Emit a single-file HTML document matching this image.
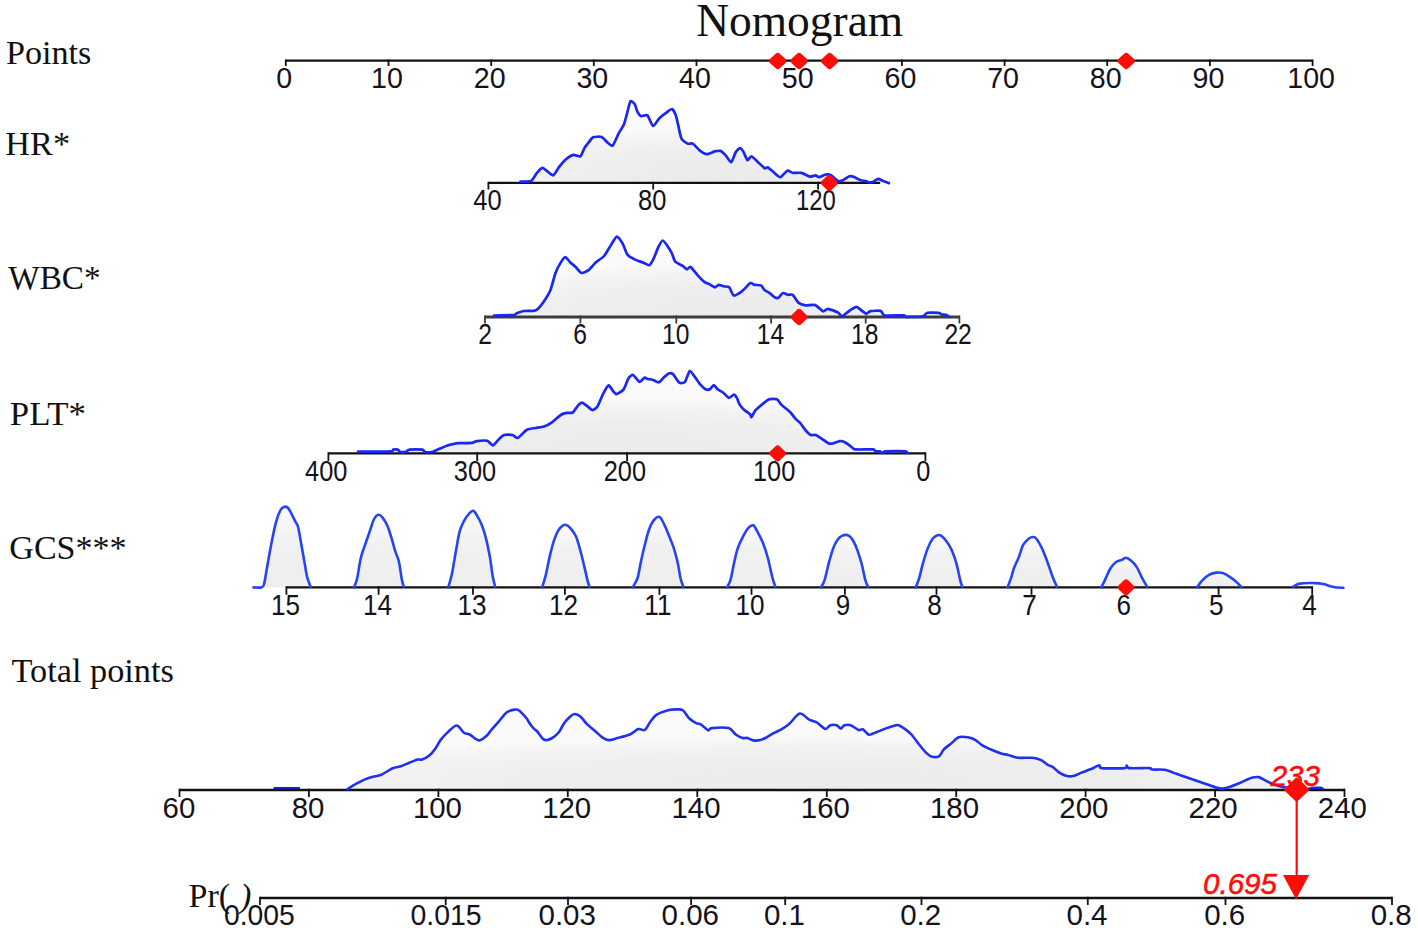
<!DOCTYPE html>
<html lang="en"><head><meta charset="utf-8"><title>Nomogram</title>
<style>
html,body{margin:0;padding:0;background:#fff}
svg{display:block}
.s{font-family:"Liberation Sans",sans-serif;fill:#14121c}
.t{font-family:"Liberation Serif",serif;fill:#111}
.ri{font-family:"Liberation Sans",sans-serif;font-style:italic;fill:#ff0c06;stroke:#ff0c06;stroke-width:0.55px}
</style></head>
<body>
<svg width="1418" height="934" viewBox="0 0 1418 934">
<rect width="1418" height="934" fill="#ffffff"/>
<defs>
<radialGradient id="gf" cx="0.5" cy="1.0" r="0.66" fx="0.5" fy="0.9"><stop offset="0" stop-color="#ebebeb"/><stop offset="0.5" stop-color="#eeeeee"/><stop offset="0.85" stop-color="#f4f4f4"/><stop offset="1" stop-color="#fafafa"/></radialGradient>
<linearGradient id="gg" x1="0" y1="0" x2="0" y2="1"><stop offset="0" stop-color="#fcfcfc"/><stop offset="0.4" stop-color="#f1f1f1"/><stop offset="1" stop-color="#eeeeee"/></linearGradient>
</defs>
<path d="M520.5,181.6C521.5,181.5 529.4,181.8 531.0,181.0C532.6,180.2 535.6,174.5 536.7,173.2C537.8,171.9 541.2,168.0 542.3,167.9C543.4,167.8 546.9,171.1 548.0,171.8C549.1,172.5 552.2,175.8 553.3,175.3C554.4,174.8 557.9,168.5 559.2,166.9C560.5,165.3 564.9,160.3 566.3,159.1C567.7,157.9 571.9,155.2 573.3,154.9C574.7,154.6 579.3,157.0 580.4,156.3C581.5,155.6 583.8,149.2 584.6,147.8C585.5,146.4 588.0,143.3 588.9,142.2C589.8,141.1 591.8,137.7 593.1,137.2C594.4,136.7 600.2,136.5 601.6,137.0C603.0,137.5 606.1,141.3 607.2,142.2C608.3,143.1 611.5,146.5 612.6,145.7C613.7,144.8 617.4,135.9 618.5,133.7C619.6,131.5 623.2,126.2 624.1,123.9C625.0,121.7 627.0,113.5 627.6,111.2C628.2,108.9 629.8,102.0 630.5,101.3C631.2,100.6 634.0,103.0 634.7,104.1C635.4,105.2 636.9,110.7 637.5,111.9C638.1,113.1 640.0,115.8 641.0,116.1C642.0,116.4 646.2,114.4 647.4,115.4C648.6,116.4 651.8,125.7 653.0,126.0C654.2,126.3 658.1,119.5 659.4,118.2C660.7,116.9 665.1,113.5 666.4,112.6C667.7,111.7 671.1,108.6 672.1,109.0C673.1,109.4 675.4,113.9 676.3,116.8C677.2,119.7 680.1,135.3 681.2,138.0C682.3,140.7 686.4,143.0 687.6,143.6C688.8,144.2 691.6,142.9 692.8,143.6C694.0,144.3 698.5,149.5 699.9,150.6C701.3,151.7 705.4,154.1 706.9,154.2C708.4,154.3 713.4,151.7 714.7,151.4C716.0,151.1 719.2,150.6 720.3,150.9C721.4,151.2 724.2,153.8 725.3,154.9C726.4,156.0 730.2,162.5 731.2,162.2C732.2,161.9 734.9,153.5 735.8,152.1C736.7,150.7 739.3,148.1 740.1,148.1C740.9,148.1 742.9,150.9 743.6,152.1C744.3,153.3 746.7,159.8 747.5,160.2C748.3,160.6 750.4,156.1 751.4,156.3C752.4,156.5 756.4,160.7 757.7,161.9C759.0,163.1 763.8,167.8 764.8,168.3C765.8,168.8 766.8,167.0 767.6,167.3C768.4,167.7 771.9,170.8 773.2,171.8C774.5,172.8 778.9,177.3 780.3,177.2C781.7,177.1 786.0,171.1 787.3,170.7C788.6,170.3 791.6,172.7 793.0,172.9C794.4,173.1 799.7,172.5 801.4,172.9C803.1,173.3 808.5,176.5 809.9,176.7C811.3,176.9 814.6,175.2 815.5,175.3C816.4,175.4 818.1,177.3 819.1,177.2C820.1,177.1 824.2,174.8 825.4,174.6C826.6,174.4 829.7,174.7 831.0,175.3C832.3,175.9 836.9,180.5 838.1,181.0C839.3,181.5 841.9,180.8 843.0,180.3C844.1,179.8 848.3,176.7 849.4,176.3C850.5,175.9 852.5,176.3 853.6,176.7C854.7,177.1 859.5,179.9 860.7,180.3C861.9,180.7 864.7,180.8 865.6,181.0C866.5,181.2 869.0,182.3 869.8,182.4C870.6,182.5 872.4,182.0 873.3,181.7C874.1,181.3 877.3,179.0 878.3,178.9C879.3,178.8 882.1,180.6 883.2,181.0C884.3,181.4 888.3,182.9 888.9,183.1L888.9,182.8L520.5,182.8Z" fill="url(#gf)"/>
<path d="M494.1,315.6C496.1,315.5 511.6,315.2 513.9,315.0C516.2,314.8 515.7,313.6 516.7,313.2C517.7,312.8 522.0,311.2 523.7,311.0C525.4,310.8 532.2,311.0 533.6,310.8C535.0,310.6 536.8,309.8 537.8,308.9C538.8,308.0 542.2,303.8 543.5,301.9C544.8,300.0 549.3,292.8 550.5,289.9C551.7,287.0 554.5,275.7 555.5,273.0C556.5,270.3 559.4,264.7 560.4,263.1C561.4,261.5 564.3,257.3 565.3,257.2C566.3,257.1 569.2,261.4 570.3,262.4C571.4,263.4 574.8,266.2 575.9,267.3C577.0,268.4 580.3,272.7 581.6,273.0C582.9,273.3 587.2,271.2 588.6,270.1C590.0,269.0 594.2,263.8 595.7,262.4C597.2,261.0 602.6,257.8 604.1,256.0C605.6,254.2 609.9,246.6 611.2,244.7C612.5,242.8 615.7,236.7 616.8,236.6C617.9,236.5 621.4,241.5 622.5,243.3C623.6,245.1 626.1,253.0 627.4,254.6C628.7,256.2 633.5,258.8 635.1,259.6C636.7,260.4 642.2,262.2 643.6,262.8C645.0,263.4 648.3,265.6 649.3,265.2C650.3,264.8 652.6,260.7 653.5,258.9C654.4,257.1 657.5,248.7 658.4,246.9C659.3,245.1 661.8,240.6 662.7,240.5C663.6,240.4 666.7,244.9 667.6,246.2C668.5,247.5 671.0,251.6 671.8,253.2C672.6,254.8 674.2,260.4 675.3,261.7C676.4,263.0 681.5,265.1 682.7,265.9C683.9,266.7 686.1,269.3 686.9,269.4C687.7,269.5 689.4,266.4 690.5,267.0C691.6,267.6 696.8,274.3 698.2,275.8C699.6,277.3 703.5,281.3 704.6,282.1C705.7,282.9 708.5,283.7 709.5,284.2C710.5,284.7 714.0,287.2 714.9,287.3C715.8,287.4 717.8,285.0 718.7,284.9C719.6,284.8 723.2,286.2 724.3,286.4C725.3,286.6 728.2,286.4 729.2,287.3C730.2,288.2 732.5,295.1 733.8,295.5C735.1,295.9 740.2,292.5 741.9,291.3C743.6,290.1 749.1,283.7 750.4,283.1C751.7,282.5 753.5,284.7 754.6,284.9C755.7,285.1 760.0,284.9 761.0,285.4C762.0,285.9 763.6,289.1 764.5,289.9C765.4,290.7 769.0,292.6 770.1,293.4C771.2,294.2 774.2,297.2 775.1,297.6C776.0,298.0 777.8,298.1 778.6,297.6C779.4,297.1 781.9,293.3 782.8,293.0C783.7,292.7 786.8,294.6 787.8,294.8C788.8,295.0 791.7,294.0 792.7,294.8C793.8,295.6 797.0,301.5 798.3,302.6C799.6,303.7 803.7,305.1 805.4,305.4C807.1,305.6 813.5,304.5 815.3,305.1C817.1,305.7 821.7,310.9 823.0,311.3C824.3,311.7 826.5,308.8 828.0,308.9C829.5,309.0 836.4,311.6 837.8,312.4C839.2,313.1 841.0,316.5 842.1,316.4C843.2,316.3 847.7,311.9 849.1,311.0C850.5,310.1 855.2,307.0 856.4,306.9C857.6,306.8 860.4,309.6 861.4,310.3C862.4,311.0 865.6,313.6 866.5,313.7C867.4,313.8 869.1,311.4 870.5,311.1C871.9,310.8 879.2,310.5 880.6,310.9C882.0,311.3 882.3,314.9 884.6,315.4C886.9,315.8 901.7,315.3 903.8,315.4C905.9,315.5 903.5,316.7 905.4,316.8C907.3,316.9 920.2,316.9 922.4,316.5C924.6,316.1 925.8,313.2 927.4,312.8C929.0,312.4 937.2,312.6 938.7,312.8C940.2,313.0 941.4,314.4 942.1,314.6C942.8,314.8 945.4,314.6 946.1,314.8C946.8,315.0 948.6,316.6 948.9,316.8L948.9,317.2L494.1,317.2Z" fill="url(#gf)"/>
<path d="M358.1,451.7C361.3,451.7 387.0,451.6 390.5,451.4C394.0,451.2 392.6,449.8 393.3,449.6C394.0,449.4 396.9,449.4 397.6,449.6C398.3,449.8 399.6,451.8 400.4,452.0C401.2,452.2 405.1,451.9 406.0,451.7C406.9,451.5 408.0,449.8 409.6,449.6C411.2,449.4 420.8,449.4 422.3,449.6C423.9,449.8 424.1,451.8 425.1,452.0C426.2,452.2 431.3,452.0 432.8,451.7C434.3,451.4 438.3,449.2 439.9,448.6C441.4,448.0 446.5,445.8 448.3,445.3C450.1,444.8 455.8,443.4 458.2,443.2C460.6,443.0 470.5,443.1 472.3,442.9C474.1,442.7 475.1,441.3 476.6,441.1C478.1,440.9 485.5,440.4 487.1,440.8C488.7,441.2 491.7,445.4 492.8,445.3C493.9,445.2 497.3,440.7 498.4,439.7C499.5,438.7 502.7,435.5 504.1,435.0C505.5,434.5 511.1,434.7 512.5,435.0C513.9,435.3 516.4,438.4 517.8,437.9C519.2,437.4 525.1,430.8 526.9,429.8C528.7,428.8 533.7,428.3 535.4,428.0C537.1,427.7 542.2,427.2 543.9,426.6C545.6,426.0 550.6,423.3 552.3,422.1C554.0,420.9 559.4,415.9 560.8,415.0C562.2,414.1 565.2,413.1 566.4,412.9C567.6,412.6 571.7,413.2 572.8,412.5C573.9,411.8 576.8,406.8 577.7,405.8C578.6,404.8 581.0,402.6 581.9,402.6C582.8,402.6 585.8,405.1 586.9,405.8C588.0,406.6 591.5,410.0 592.5,410.1C593.5,410.2 596.3,408.1 597.4,406.5C598.5,404.9 602.0,396.0 603.1,393.9C604.2,391.8 607.7,385.7 608.7,385.4C609.7,385.1 612.2,390.1 613.0,391.0C613.8,391.9 615.5,394.2 616.5,394.1C617.5,394.0 622.3,391.2 623.5,389.6C624.7,388.0 627.6,379.8 628.5,378.3C629.4,376.8 631.9,374.8 632.7,374.8C633.5,374.8 635.5,377.6 636.2,378.3C636.9,379.0 638.9,382.0 639.8,381.9C640.6,381.8 643.9,377.9 644.7,377.6C645.5,377.3 646.7,378.8 647.5,379.0C648.3,379.2 651.4,379.4 652.5,379.7C653.6,380.0 657.7,382.5 658.8,382.3C659.9,382.1 662.7,378.5 663.7,377.6C664.7,376.7 667.8,373.8 668.7,373.4C669.6,373.0 671.8,373.2 672.9,374.1C674.0,375.0 678.1,381.8 679.3,382.6C680.5,383.4 683.9,383.1 684.9,381.9C685.9,380.7 688.8,371.5 689.8,371.0C690.8,370.5 693.7,375.5 694.8,376.9C695.9,378.3 699.3,383.5 700.4,384.7C701.5,385.9 704.6,388.8 705.6,389.3C706.6,389.8 709.1,389.7 709.9,389.3C710.7,388.9 713.0,385.1 713.8,385.1C714.6,385.1 716.6,388.5 717.6,389.3C718.6,390.1 722.2,391.8 723.3,392.7C724.4,393.6 727.8,397.6 728.9,397.8C730.0,398.0 733.1,394.6 733.9,394.6C734.7,394.6 736.4,397.1 737.0,398.1C737.6,399.1 738.8,403.3 739.5,404.4C740.2,405.5 742.6,408.4 743.7,409.4C744.8,410.4 749.3,413.5 750.1,414.3C750.9,415.1 751.0,417.5 751.5,417.1C752.0,416.8 753.9,412.1 755.0,410.8C756.1,409.5 760.7,405.6 762.1,404.4C763.5,403.2 767.6,399.7 769.1,399.2C770.6,398.7 775.6,398.6 776.9,399.2C778.2,399.8 780.5,403.8 781.8,405.1C783.1,406.4 788.9,410.8 790.3,412.2C791.7,413.6 794.9,418.1 795.9,419.2C796.9,420.3 799.1,421.7 800.1,422.8C801.1,423.9 804.7,429.3 805.8,430.5C806.9,431.7 809.7,434.6 810.7,435.0C811.7,435.4 814.6,434.7 815.7,435.0C816.8,435.3 820.0,437.5 821.3,438.3C822.6,439.1 827.2,442.7 828.3,443.2C829.4,443.7 831.5,443.7 832.6,443.5C833.7,443.3 838.5,441.3 839.6,441.1C840.7,440.9 842.8,441.3 843.9,441.8C845.0,442.3 849.1,445.0 850.2,445.8C851.3,446.6 852.8,449.0 855.1,449.4C857.4,449.8 871.3,449.2 873.3,449.4C875.3,449.6 874.9,451.2 875.5,451.4C876.1,451.6 879.0,451.2 879.7,451.4C880.4,451.6 881.5,453.0 882.1,453.0C882.7,453.0 883.2,451.6 885.5,451.4C887.8,451.2 903.1,451.1 905.3,451.3C907.5,451.5 907.2,452.8 907.4,453.0L907.4,453.3L358.1,453.3Z" fill="url(#gf)"/>
<path d="M253.5,587.4C254.8,587.4 259.5,588.0 261.3,587.4C263.1,586.8 263.2,587.1 264.1,583.9C265.0,580.7 265.7,574.9 266.9,568.3C268.1,561.7 269.7,552.1 271.2,544.4C272.7,536.6 274.6,527.4 276.1,521.8C277.6,516.1 279.0,513.0 280.3,510.5C281.6,508.0 282.7,507.5 283.9,507.0C285.1,506.5 286.2,506.5 287.4,507.4C288.6,508.3 289.6,510.3 290.9,512.6C292.2,514.9 293.9,518.8 295.1,521.1C296.3,523.5 297.1,523.3 298.0,526.7C298.9,530.1 299.8,535.7 300.8,541.5C301.9,547.3 303.2,555.4 304.3,561.3C305.4,567.2 306.1,572.6 307.1,576.8C308.2,581.0 310.0,585.1 310.6,586.7Z" fill="url(#gg)"/>
<path d="M354.1,587.4C354.6,585.9 356.1,583.0 357.2,578.2C358.3,573.4 359.3,564.4 360.7,558.5C362.1,552.6 364.0,547.9 365.7,543.0C367.4,538.1 369.2,532.9 370.6,528.9C372.0,524.9 372.8,521.4 374.1,519.0C375.4,516.6 376.9,514.9 378.3,514.7C379.7,514.5 381.1,515.7 382.6,517.6C384.1,519.5 386.0,522.5 387.5,526.0C389.0,529.5 390.4,534.5 391.7,538.7C393.0,542.9 394.1,547.6 395.3,551.4C396.5,555.2 397.8,556.8 398.8,561.3C399.9,565.8 400.8,574.0 401.6,578.2C402.4,582.4 403.4,585.3 403.7,586.7Z" fill="url(#gg)"/>
<path d="M448.3,587.4C448.9,585.2 450.6,580.2 451.9,574.0C453.2,567.8 454.8,557.0 456.1,550.0C457.4,543.0 458.3,536.5 459.6,531.7C460.9,526.9 462.4,524.1 463.9,521.1C465.4,518.1 467.3,515.7 468.8,514.0C470.3,512.3 471.7,510.7 473.0,510.8C474.3,510.9 475.0,512.2 476.5,514.7C478.0,517.2 480.6,521.8 482.2,526.0C483.8,530.2 485.1,534.9 486.4,540.1C487.7,545.3 488.8,551.0 489.9,557.1C491.0,563.2 491.9,571.9 492.8,576.8C493.7,581.7 494.8,585.1 495.2,586.7Z" fill="url(#gg)"/>
<path d="M542.1,587.4C542.7,585.4 544.4,580.7 545.7,575.4C547.0,570.1 548.5,561.5 549.9,555.6C551.3,549.7 552.7,544.3 554.1,540.1C555.5,535.9 556.9,532.7 558.3,530.3C559.7,527.9 561.3,526.6 562.6,525.7C563.9,524.8 564.7,524.4 566.1,524.9C567.5,525.4 569.4,526.9 571.0,528.9C572.6,530.9 574.5,533.1 576.0,536.6C577.5,540.1 578.8,545.0 580.2,550.0C581.6,555.0 583.2,562.0 584.4,566.9C585.6,571.8 586.5,576.3 587.3,579.6C588.1,582.9 589.0,585.5 589.4,586.7Z" fill="url(#gg)"/>
<path d="M632.6,587.4C633.4,585.9 636.1,582.6 637.5,578.2C638.9,573.9 639.8,566.7 641.0,561.3C642.2,555.9 643.3,551.0 644.6,545.8C645.9,540.6 647.3,534.5 648.8,530.3C650.3,526.1 651.9,522.6 653.7,520.4C655.5,518.2 657.8,516.4 659.4,516.9C661.0,517.4 662.1,520.3 663.6,523.2C665.1,526.1 666.9,530.5 668.5,534.5C670.1,538.5 672.0,542.5 673.5,547.2C675.0,551.9 676.5,557.5 677.7,562.7C678.9,567.9 679.6,574.2 680.5,578.2C681.4,582.2 682.8,585.3 683.3,586.7Z" fill="url(#gg)"/>
<path d="M727.1,587.4C727.7,586.1 729.4,583.7 730.6,579.6C731.8,575.5 732.9,567.9 734.1,562.7C735.3,557.5 736.2,552.8 737.6,548.6C739.0,544.4 740.8,540.7 742.6,537.3C744.4,533.9 746.4,530.1 748.2,528.1C750.0,526.1 751.7,524.7 753.2,525.3C754.7,525.9 755.8,528.8 757.4,531.7C759.0,534.7 761.2,538.5 763.0,543.0C764.8,547.5 766.5,552.9 768.0,558.5C769.5,564.1 771.0,572.1 772.2,576.8C773.4,581.5 774.8,585.1 775.3,586.7Z" fill="url(#gg)"/>
<path d="M821.2,587.4C821.8,586.1 823.4,583.7 824.7,579.6C826.0,575.5 827.5,567.9 828.9,562.7C830.3,557.5 831.7,552.4 833.1,548.6C834.5,544.8 835.9,542.3 837.4,540.1C838.9,537.9 840.4,536.4 842.3,535.6C844.2,534.9 846.8,534.6 848.7,535.6C850.6,536.6 852.1,538.9 853.6,541.5C855.1,544.1 856.4,547.4 857.8,551.4C859.2,555.4 860.9,560.8 862.1,565.5C863.3,570.2 864.2,576.1 865.2,579.6C866.2,583.1 867.5,585.5 868.0,586.7Z" fill="url(#gg)"/>
<path d="M915.7,587.4C916.3,585.9 918.0,582.1 919.2,578.2C920.4,574.3 921.3,569.0 922.7,564.1C924.1,559.2 926.0,552.8 927.6,548.6C929.2,544.4 931.0,540.9 932.6,538.7C934.2,536.5 936.1,535.7 937.5,535.2C938.9,534.7 939.5,534.6 941.0,535.6C942.5,536.6 944.8,538.9 946.7,541.5C948.6,544.1 950.6,547.6 952.3,551.4C953.9,555.2 955.3,559.4 956.6,564.1C957.9,568.8 959.2,575.8 960.1,579.6C961.0,583.4 961.9,585.5 962.2,586.7Z" fill="url(#gg)"/>
<path d="M1007.5,587.4C1008.1,585.9 1009.9,581.4 1011.0,578.2C1012.1,575.0 1012.6,571.8 1013.9,568.3C1015.2,564.8 1017.3,561.0 1018.8,557.1C1020.3,553.2 1021.4,548.2 1023.0,545.1C1024.7,542.0 1027.0,540.1 1028.7,538.7C1030.4,537.4 1031.6,537.0 1032.9,537.0C1034.2,537.0 1034.9,536.8 1036.4,538.7C1037.9,540.6 1040.2,544.6 1042.1,548.6C1044.0,552.6 1046.0,558.0 1047.7,562.7C1049.5,567.4 1051.1,572.8 1052.6,576.8C1054.1,580.8 1056.2,585.1 1056.9,586.7Z" fill="url(#gg)"/>
<path d="M1101.3,587.4C1102.0,586.0 1104.0,582.1 1105.5,578.9C1107.0,575.7 1108.7,571.1 1110.5,568.3C1112.3,565.5 1114.2,563.4 1116.1,562.0C1118.0,560.6 1120.0,560.6 1121.7,559.9C1123.4,559.2 1124.5,557.7 1126.0,557.8C1127.5,557.9 1129.1,559.1 1130.9,560.6C1132.7,562.1 1134.7,564.0 1136.6,566.9C1138.5,569.8 1140.5,574.9 1142.2,578.2C1144.0,581.5 1146.3,585.3 1147.1,586.7Z" fill="url(#gg)"/>
<path d="M1197.0,587.4C1197.9,586.2 1200.2,582.4 1202.3,580.3C1204.4,578.2 1207.1,576.0 1209.4,574.7C1211.8,573.4 1214.2,572.9 1216.4,572.6C1218.6,572.3 1220.6,572.3 1222.8,573.0C1225.0,573.7 1227.4,575.2 1229.8,576.8C1232.2,578.4 1235.0,580.6 1236.9,582.4C1238.9,584.2 1240.7,586.6 1241.5,587.4Z" fill="url(#gg)"/>
<path d="M347.4,789.2C348.7,788.4 353.3,785.3 355.9,783.9C358.4,782.5 361.9,780.7 364.4,779.6C366.9,778.5 370.3,777.5 372.8,776.8C375.3,776.1 378.3,776.0 381.3,774.7C384.3,773.4 389.6,769.6 392.6,768.3C395.6,767.0 398.5,767.0 401.0,766.2C403.5,765.4 406.9,763.7 409.5,762.7C412.1,761.7 416.1,760.1 418.0,759.6C419.9,759.1 420.5,760.2 422.2,759.6C423.9,759.0 427.4,757.1 429.3,755.6C431.2,754.1 433.2,751.6 434.9,749.3C436.6,747.0 438.6,742.6 440.5,740.1C442.4,737.6 445.2,734.6 447.6,732.4C450.0,730.2 454.2,725.4 456.7,725.5C459.2,725.6 462.1,731.4 464.0,732.8C465.9,734.1 467.4,733.4 469.6,734.5C471.8,735.6 476.3,740.2 478.8,740.4C481.3,740.6 484.8,737.2 486.5,735.9C488.2,734.6 488.4,733.5 490.0,731.6C491.6,729.7 495.3,725.6 497.4,723.2C499.5,720.8 502.4,716.9 503.8,715.3C505.2,713.7 505.8,713.0 506.8,712.3C507.8,711.6 509.5,711.0 510.7,710.6C511.9,710.2 513.6,709.7 514.7,709.6C515.8,709.5 517.0,709.3 518.1,709.9C519.2,710.5 520.8,712.0 522.1,713.3C523.4,714.6 525.2,716.5 526.5,718.3C527.8,720.1 529.8,723.6 531.0,725.2C532.2,726.8 533.4,728.1 534.4,729.1C535.4,730.1 536.4,730.4 537.4,731.6C538.4,732.8 540.3,735.8 541.3,737.0C542.3,738.2 542.9,739.0 543.8,739.5C544.7,740.0 546.0,740.2 547.3,740.0C548.6,739.8 550.8,738.8 552.2,738.0C553.6,737.2 555.4,735.7 556.6,734.6C557.8,733.5 558.9,732.3 560.0,730.6C561.1,728.9 562.6,725.3 564.1,723.2C565.6,721.1 568.2,718.3 569.8,716.9C571.4,715.5 573.0,714.0 574.7,714.0C576.4,714.0 579.2,715.4 581.0,716.9C582.8,718.4 584.6,721.8 586.7,723.9C588.8,726.0 592.8,729.0 595.1,731.0C597.4,733.0 600.1,735.9 602.2,737.3C604.3,738.7 606.9,740.0 609.2,740.1C611.5,740.2 614.6,738.8 617.7,738.0C620.8,737.2 626.8,735.8 629.9,734.5C633.0,733.2 636.1,729.8 638.3,729.1C640.5,728.4 642.9,731.1 644.7,730.0C646.5,728.9 648.5,724.1 650.3,721.8C652.1,719.5 654.0,716.4 656.7,714.7C659.4,713.0 665.0,711.0 668.0,710.2C671.0,709.4 674.2,709.4 676.4,709.4C678.6,709.4 680.9,708.9 682.8,710.2C684.7,711.5 687.1,716.3 689.1,718.3C691.1,720.2 694.4,722.3 696.2,723.2C698.0,724.1 699.3,723.5 701.1,724.6C702.9,725.7 706.6,729.8 708.2,730.3C709.8,730.8 708.6,728.4 711.7,728.1C714.8,727.8 725.0,727.1 728.6,728.1C732.2,729.1 733.6,733.0 735.7,734.5C737.8,736.0 740.9,737.5 742.7,738.0C744.5,738.5 746.0,737.6 747.6,738.0C749.2,738.4 751.4,740.1 753.3,740.4C755.2,740.7 758.3,740.6 760.3,740.1C762.3,739.6 764.7,738.3 766.7,737.3C768.7,736.2 771.4,734.4 773.7,733.1C776.0,731.8 779.9,730.3 782.2,728.9C784.5,727.5 786.7,726.2 789.3,723.9C791.9,721.6 796.8,714.2 799.8,713.6C802.8,713.0 806.6,718.4 809.2,719.7C811.8,721.0 814.5,721.1 816.9,722.5C819.3,723.9 823.4,728.5 825.4,728.9C827.4,729.3 828.6,725.8 830.3,725.3C832.0,724.8 835.1,724.8 836.7,725.3C838.3,725.8 839.7,728.6 840.9,728.6C842.1,728.6 842.9,725.8 844.4,725.3C845.9,724.8 848.7,724.6 850.8,725.3C852.9,726.0 856.7,729.4 858.5,730.0C860.3,730.6 861.3,728.6 862.8,729.3C864.3,730.0 866.9,733.8 868.4,734.5C869.9,735.2 870.2,734.6 872.6,733.8C875.0,733.0 881.1,730.2 884.6,728.9C888.1,727.6 893.8,725.8 895.9,725.3C898.0,724.8 897.2,724.7 898.7,725.3C900.2,725.9 903.9,728.2 905.8,729.6C907.7,731.0 909.5,732.4 911.4,734.5C913.3,736.6 916.4,741.1 918.5,743.7C920.6,746.3 923.6,750.2 925.5,752.1C927.4,754.0 929.2,755.8 931.2,756.4C933.2,757.0 937.0,757.5 938.9,756.4C940.8,755.3 942.1,751.2 943.9,749.3C945.7,747.4 948.7,745.5 950.9,743.7C953.1,741.9 956.2,738.3 958.7,737.3C961.2,736.3 965.3,736.9 967.8,737.3C970.3,737.7 973.5,738.9 975.6,740.1C977.7,741.3 979.7,743.7 981.9,745.1C984.1,746.5 987.5,748.0 990.4,749.3C993.3,750.6 998.5,752.7 1001.2,753.5C1003.9,754.3 1005.7,754.3 1008.2,754.9C1010.7,755.5 1014.5,757.4 1018.1,757.8C1021.7,758.2 1028.8,757.5 1032.2,757.8C1035.6,758.1 1038.3,758.9 1040.6,759.9C1042.9,760.9 1045.9,763.8 1047.7,764.8C1049.5,765.8 1050.9,765.8 1052.6,766.9C1054.3,768.0 1057.0,771.0 1059.0,772.3C1061.0,773.6 1063.9,775.1 1066.0,775.7C1068.1,776.3 1070.8,776.6 1073.1,776.1C1075.4,775.6 1078.6,773.8 1081.6,772.6C1084.6,771.4 1090.2,769.4 1092.8,768.3C1095.4,767.2 1097.8,765.2 1099.2,765.2C1100.6,765.2 1098.2,767.7 1102.0,768.1C1105.8,768.5 1120.9,768.5 1124.6,768.1C1128.3,767.7 1126.0,765.5 1126.7,765.5C1127.4,765.5 1126.1,767.7 1129.5,768.1C1132.9,768.5 1145.9,767.9 1149.3,768.1C1152.7,768.3 1149.8,769.2 1152.1,769.5C1154.4,769.8 1161.6,769.3 1164.8,769.8C1168.0,770.3 1170.7,771.7 1173.2,772.6C1175.7,773.5 1176.8,774.1 1181.2,775.6C1185.6,777.1 1197.0,780.9 1202.3,782.7C1207.6,784.5 1213.4,786.7 1216.4,787.6C1219.4,788.5 1220.4,788.6 1222.1,788.6C1223.8,788.6 1225.0,788.5 1227.7,787.6C1230.4,786.7 1236.8,784.2 1240.4,782.7C1244.0,781.2 1249.0,778.6 1251.7,777.8C1254.4,777.0 1256.6,776.7 1258.7,777.1C1260.8,777.5 1263.7,779.6 1265.8,780.6C1267.9,781.6 1270.3,783.2 1272.8,784.1C1275.3,785.0 1279.2,786.2 1282.7,786.9C1286.2,787.6 1294.0,788.7 1296.0,789.0L1296.0,789.7L347.4,789.7Z" fill="url(#gf)"/>
<path d="M285.8,60.6H1312.6" stroke="#121212" stroke-width="2.3" fill="none"/>
<path d="M285.8,59.45V66.1M388.5,59.45V66.1M491.2,59.45V66.1M593.8,59.45V66.1M696.5,59.45V66.1M799.2,59.45V66.1M901.9,59.45V66.1M1004.6,59.45V66.1M1107.2,59.45V66.1M1209.9,59.45V66.1M1312.6,59.45V66.1" stroke="#121212" stroke-width="1.8" fill="none"/>
<text transform="translate(284.3,87.8) scale(0.97,1)" font-size="29.5" text-anchor="middle" class="s">0</text>
<text transform="translate(387.0,87.8) scale(0.97,1)" font-size="29.5" text-anchor="middle" class="s">10</text>
<text transform="translate(489.7,87.8) scale(0.97,1)" font-size="29.5" text-anchor="middle" class="s">20</text>
<text transform="translate(592.3,87.8) scale(0.97,1)" font-size="29.5" text-anchor="middle" class="s">30</text>
<text transform="translate(695.0,87.8) scale(0.97,1)" font-size="29.5" text-anchor="middle" class="s">40</text>
<text transform="translate(797.7,87.8) scale(0.97,1)" font-size="29.5" text-anchor="middle" class="s">50</text>
<text transform="translate(900.4,87.8) scale(0.97,1)" font-size="29.5" text-anchor="middle" class="s">60</text>
<text transform="translate(1003.1,87.8) scale(0.97,1)" font-size="29.5" text-anchor="middle" class="s">70</text>
<text transform="translate(1105.7,87.8) scale(0.97,1)" font-size="29.5" text-anchor="middle" class="s">80</text>
<text transform="translate(1208.4,87.8) scale(0.97,1)" font-size="29.5" text-anchor="middle" class="s">90</text>
<text transform="translate(1311.1,87.8) scale(0.97,1)" font-size="29.5" text-anchor="middle" class="s">100</text>
<path d="M488.4,182.9H880.2" stroke="#121212" stroke-width="2.3" fill="none"/>
<path d="M488.4,181.75V189.4M653.2,181.75V189.4M818.1,181.75V189.4" stroke="#121212" stroke-width="1.8" fill="none"/>
<text transform="translate(487.4,210.4) scale(0.85,1)" font-size="30" text-anchor="middle" class="s">40</text>
<text transform="translate(652.2,210.4) scale(0.85,1)" font-size="30" text-anchor="middle" class="s">80</text>
<text transform="translate(815.9,210.4) scale(0.795,1)" font-size="30" text-anchor="middle" class="s">120</text>
<path d="M484.6,317.0H959.6" stroke="#3c3c3c" stroke-width="3.1" fill="none"/>
<path d="M485,315.45V323.5M580.4,315.45V323.5M676.3,315.45V323.5M771.1,315.45V323.5M865.7,315.45V323.5M959.4,315.45V323.5" stroke="#3c3c3c" stroke-width="1.8" fill="none"/>
<text transform="translate(485.1,344.3) scale(0.85,1)" font-size="29" text-anchor="middle" class="s">2</text>
<text transform="translate(580.2,344.3) scale(0.85,1)" font-size="29" text-anchor="middle" class="s">6</text>
<text transform="translate(675.8,344.3) scale(0.85,1)" font-size="29" text-anchor="middle" class="s">10</text>
<text transform="translate(770.4,344.3) scale(0.85,1)" font-size="29" text-anchor="middle" class="s">14</text>
<text transform="translate(864.7,344.3) scale(0.85,1)" font-size="29" text-anchor="middle" class="s">18</text>
<text transform="translate(958.1,344.3) scale(0.85,1)" font-size="29" text-anchor="middle" class="s">22</text>
<path d="M328.2,453.4H925.6" stroke="#121212" stroke-width="2.3" fill="none"/>
<path d="M328.4,452.25V460.9M477.2,452.25V460.9M627.1,452.25V460.9M776.3,452.25V460.9M925.4,452.25V460.9" stroke="#121212" stroke-width="1.8" fill="none"/>
<text transform="translate(326.2,480.6) scale(0.86,1)" font-size="29.5" text-anchor="middle" class="s">400</text>
<text transform="translate(475.0,480.6) scale(0.86,1)" font-size="29.5" text-anchor="middle" class="s">300</text>
<text transform="translate(624.9,480.6) scale(0.86,1)" font-size="29.5" text-anchor="middle" class="s">200</text>
<text transform="translate(774.1,480.6) scale(0.86,1)" font-size="29.5" text-anchor="middle" class="s">100</text>
<text transform="translate(923.2,480.6) scale(0.86,1)" font-size="29.5" text-anchor="middle" class="s">0</text>
<path d="M286.4,587.3H1312.4" stroke="#121212" stroke-width="2.3" fill="none"/>
<path d="M286.4,586.15V594.8M378.6,586.15V594.8M473,586.15V594.8M564.9,586.15V594.8M659.4,586.15V594.8M751.5,586.15V594.8M844.9,586.15V594.8M936.5,586.15V594.8M1031.5,586.15V594.8M1126,586.15V594.8M1218.6,586.15V594.8M1312.2,586.15V594.8" stroke="#121212" stroke-width="1.8" fill="none"/>
<text transform="translate(285.6,614.5) scale(0.9,1)" font-size="29" text-anchor="middle" class="s">15</text>
<text transform="translate(377.6,614.5) scale(0.9,1)" font-size="29" text-anchor="middle" class="s">14</text>
<text transform="translate(471.9,614.5) scale(0.9,1)" font-size="29" text-anchor="middle" class="s">13</text>
<text transform="translate(563.6,614.5) scale(0.9,1)" font-size="29" text-anchor="middle" class="s">12</text>
<text transform="translate(657.9,614.5) scale(0.9,1)" font-size="29" text-anchor="middle" class="s">11</text>
<text transform="translate(749.9,614.5) scale(0.9,1)" font-size="29" text-anchor="middle" class="s">10</text>
<text transform="translate(843.1,614.5) scale(0.9,1)" font-size="29" text-anchor="middle" class="s">9</text>
<text transform="translate(934.6,614.5) scale(0.9,1)" font-size="29" text-anchor="middle" class="s">8</text>
<text transform="translate(1029.4,614.5) scale(0.9,1)" font-size="29" text-anchor="middle" class="s">7</text>
<text transform="translate(1123.7,614.5) scale(0.9,1)" font-size="29" text-anchor="middle" class="s">6</text>
<text transform="translate(1216.2,614.5) scale(0.9,1)" font-size="29" text-anchor="middle" class="s">5</text>
<text transform="translate(1309.6,614.5) scale(0.9,1)" font-size="29" text-anchor="middle" class="s">4</text>
<path d="M179.3,790.0H1344.8" stroke="#121212" stroke-width="2.3" fill="none"/>
<path d="M179.5,788.85V797.0M308.9,788.85V797.0M438.4,788.85V797.0M567.8,788.85V797.0M697.3,788.85V797.0M826.8,788.85V797.0M956.2,788.85V797.0M1085.6,788.85V797.0M1215.1,788.85V797.0M1344.5,788.85V797.0" stroke="#121212" stroke-width="1.8" fill="none"/>
<text transform="translate(178.9,817.7) scale(0.98,1)" font-size="30" text-anchor="middle" class="s">60</text>
<text transform="translate(308.1,817.7) scale(0.98,1)" font-size="30" text-anchor="middle" class="s">80</text>
<text transform="translate(437.4,817.7) scale(0.98,1)" font-size="30" text-anchor="middle" class="s">100</text>
<text transform="translate(566.7,817.7) scale(0.98,1)" font-size="30" text-anchor="middle" class="s">120</text>
<text transform="translate(696.0,817.7) scale(0.98,1)" font-size="30" text-anchor="middle" class="s">140</text>
<text transform="translate(825.3,817.7) scale(0.98,1)" font-size="30" text-anchor="middle" class="s">160</text>
<text transform="translate(954.5,817.7) scale(0.98,1)" font-size="30" text-anchor="middle" class="s">180</text>
<text transform="translate(1083.8,817.7) scale(0.98,1)" font-size="30" text-anchor="middle" class="s">200</text>
<text transform="translate(1213.1,817.7) scale(0.98,1)" font-size="30" text-anchor="middle" class="s">220</text>
<text transform="translate(1342.3,817.7) scale(0.98,1)" font-size="30" text-anchor="middle" class="s">240</text>
<path d="M260,898.0H1392" stroke="#121212" stroke-width="2.3" fill="none"/>
<path d="M260,896.85V905.0M445.7,896.85V905.0M568,896.85V905.0M691.1,896.85V905.0M785.2,896.85V905.0M921.5,896.85V905.0M1087.8,896.85V905.0M1225.5,896.85V905.0M1392,896.85V905.0" stroke="#121212" stroke-width="1.8" fill="none"/>
<text transform="translate(259.4,925.2) scale(0.96,1)" font-size="29.5" text-anchor="middle" class="s">0.005</text>
<text transform="translate(446.0,925.2) scale(0.965,1)" font-size="29.5" text-anchor="middle" class="s">0.015</text>
<text transform="translate(567.2,925.2) scale(1.0,1)" font-size="29.5" text-anchor="middle" class="s">0.03</text>
<text transform="translate(690.3,925.2) scale(1.0,1)" font-size="29.5" text-anchor="middle" class="s">0.06</text>
<text transform="translate(784.4,925.2) scale(1.0,1)" font-size="29.5" text-anchor="middle" class="s">0.1</text>
<text transform="translate(920.7,925.2) scale(1.0,1)" font-size="29.5" text-anchor="middle" class="s">0.2</text>
<text transform="translate(1087.0,925.2) scale(1.0,1)" font-size="29.5" text-anchor="middle" class="s">0.4</text>
<text transform="translate(1224.7,925.2) scale(1.0,1)" font-size="29.5" text-anchor="middle" class="s">0.6</text>
<text transform="translate(1391.2,925.2) scale(1.0,1)" font-size="29.5" text-anchor="middle" class="s">0.8</text>
<path d="M520.5,181.6C521.5,181.5 529.4,181.8 531.0,181.0C532.6,180.2 535.6,174.5 536.7,173.2C537.8,171.9 541.2,168.0 542.3,167.9C543.4,167.8 546.9,171.1 548.0,171.8C549.1,172.5 552.2,175.8 553.3,175.3C554.4,174.8 557.9,168.5 559.2,166.9C560.5,165.3 564.9,160.3 566.3,159.1C567.7,157.9 571.9,155.2 573.3,154.9C574.7,154.6 579.3,157.0 580.4,156.3C581.5,155.6 583.8,149.2 584.6,147.8C585.5,146.4 588.0,143.3 588.9,142.2C589.8,141.1 591.8,137.7 593.1,137.2C594.4,136.7 600.2,136.5 601.6,137.0C603.0,137.5 606.1,141.3 607.2,142.2C608.3,143.1 611.5,146.5 612.6,145.7C613.7,144.8 617.4,135.9 618.5,133.7C619.6,131.5 623.2,126.2 624.1,123.9C625.0,121.7 627.0,113.5 627.6,111.2C628.2,108.9 629.8,102.0 630.5,101.3C631.2,100.6 634.0,103.0 634.7,104.1C635.4,105.2 636.9,110.7 637.5,111.9C638.1,113.1 640.0,115.8 641.0,116.1C642.0,116.4 646.2,114.4 647.4,115.4C648.6,116.4 651.8,125.7 653.0,126.0C654.2,126.3 658.1,119.5 659.4,118.2C660.7,116.9 665.1,113.5 666.4,112.6C667.7,111.7 671.1,108.6 672.1,109.0C673.1,109.4 675.4,113.9 676.3,116.8C677.2,119.7 680.1,135.3 681.2,138.0C682.3,140.7 686.4,143.0 687.6,143.6C688.8,144.2 691.6,142.9 692.8,143.6C694.0,144.3 698.5,149.5 699.9,150.6C701.3,151.7 705.4,154.1 706.9,154.2C708.4,154.3 713.4,151.7 714.7,151.4C716.0,151.1 719.2,150.6 720.3,150.9C721.4,151.2 724.2,153.8 725.3,154.9C726.4,156.0 730.2,162.5 731.2,162.2C732.2,161.9 734.9,153.5 735.8,152.1C736.7,150.7 739.3,148.1 740.1,148.1C740.9,148.1 742.9,150.9 743.6,152.1C744.3,153.3 746.7,159.8 747.5,160.2C748.3,160.6 750.4,156.1 751.4,156.3C752.4,156.5 756.4,160.7 757.7,161.9C759.0,163.1 763.8,167.8 764.8,168.3C765.8,168.8 766.8,167.0 767.6,167.3C768.4,167.7 771.9,170.8 773.2,171.8C774.5,172.8 778.9,177.3 780.3,177.2C781.7,177.1 786.0,171.1 787.3,170.7C788.6,170.3 791.6,172.7 793.0,172.9C794.4,173.1 799.7,172.5 801.4,172.9C803.1,173.3 808.5,176.5 809.9,176.7C811.3,176.9 814.6,175.2 815.5,175.3C816.4,175.4 818.1,177.3 819.1,177.2C820.1,177.1 824.2,174.8 825.4,174.6C826.6,174.4 829.7,174.7 831.0,175.3C832.3,175.9 836.9,180.5 838.1,181.0C839.3,181.5 841.9,180.8 843.0,180.3C844.1,179.8 848.3,176.7 849.4,176.3C850.5,175.9 852.5,176.3 853.6,176.7C854.7,177.1 859.5,179.9 860.7,180.3C861.9,180.7 864.7,180.8 865.6,181.0C866.5,181.2 869.0,182.3 869.8,182.4C870.6,182.5 872.4,182.0 873.3,181.7C874.1,181.3 877.3,179.0 878.3,178.9C879.3,178.8 882.1,180.6 883.2,181.0C884.3,181.4 888.3,182.9 888.9,183.1" fill="none" stroke="#1a26f2" stroke-width="2.7" stroke-linejoin="round" stroke-linecap="round"/>
<path d="M494.1,315.6C496.1,315.5 511.6,315.2 513.9,315.0C516.2,314.8 515.7,313.6 516.7,313.2C517.7,312.8 522.0,311.2 523.7,311.0C525.4,310.8 532.2,311.0 533.6,310.8C535.0,310.6 536.8,309.8 537.8,308.9C538.8,308.0 542.2,303.8 543.5,301.9C544.8,300.0 549.3,292.8 550.5,289.9C551.7,287.0 554.5,275.7 555.5,273.0C556.5,270.3 559.4,264.7 560.4,263.1C561.4,261.5 564.3,257.3 565.3,257.2C566.3,257.1 569.2,261.4 570.3,262.4C571.4,263.4 574.8,266.2 575.9,267.3C577.0,268.4 580.3,272.7 581.6,273.0C582.9,273.3 587.2,271.2 588.6,270.1C590.0,269.0 594.2,263.8 595.7,262.4C597.2,261.0 602.6,257.8 604.1,256.0C605.6,254.2 609.9,246.6 611.2,244.7C612.5,242.8 615.7,236.7 616.8,236.6C617.9,236.5 621.4,241.5 622.5,243.3C623.6,245.1 626.1,253.0 627.4,254.6C628.7,256.2 633.5,258.8 635.1,259.6C636.7,260.4 642.2,262.2 643.6,262.8C645.0,263.4 648.3,265.6 649.3,265.2C650.3,264.8 652.6,260.7 653.5,258.9C654.4,257.1 657.5,248.7 658.4,246.9C659.3,245.1 661.8,240.6 662.7,240.5C663.6,240.4 666.7,244.9 667.6,246.2C668.5,247.5 671.0,251.6 671.8,253.2C672.6,254.8 674.2,260.4 675.3,261.7C676.4,263.0 681.5,265.1 682.7,265.9C683.9,266.7 686.1,269.3 686.9,269.4C687.7,269.5 689.4,266.4 690.5,267.0C691.6,267.6 696.8,274.3 698.2,275.8C699.6,277.3 703.5,281.3 704.6,282.1C705.7,282.9 708.5,283.7 709.5,284.2C710.5,284.7 714.0,287.2 714.9,287.3C715.8,287.4 717.8,285.0 718.7,284.9C719.6,284.8 723.2,286.2 724.3,286.4C725.3,286.6 728.2,286.4 729.2,287.3C730.2,288.2 732.5,295.1 733.8,295.5C735.1,295.9 740.2,292.5 741.9,291.3C743.6,290.1 749.1,283.7 750.4,283.1C751.7,282.5 753.5,284.7 754.6,284.9C755.7,285.1 760.0,284.9 761.0,285.4C762.0,285.9 763.6,289.1 764.5,289.9C765.4,290.7 769.0,292.6 770.1,293.4C771.2,294.2 774.2,297.2 775.1,297.6C776.0,298.0 777.8,298.1 778.6,297.6C779.4,297.1 781.9,293.3 782.8,293.0C783.7,292.7 786.8,294.6 787.8,294.8C788.8,295.0 791.7,294.0 792.7,294.8C793.8,295.6 797.0,301.5 798.3,302.6C799.6,303.7 803.7,305.1 805.4,305.4C807.1,305.6 813.5,304.5 815.3,305.1C817.1,305.7 821.7,310.9 823.0,311.3C824.3,311.7 826.5,308.8 828.0,308.9C829.5,309.0 836.4,311.6 837.8,312.4C839.2,313.1 841.0,316.5 842.1,316.4C843.2,316.3 847.7,311.9 849.1,311.0C850.5,310.1 855.2,307.0 856.4,306.9C857.6,306.8 860.4,309.6 861.4,310.3C862.4,311.0 865.6,313.6 866.5,313.7C867.4,313.8 869.1,311.4 870.5,311.1C871.9,310.8 879.2,310.5 880.6,310.9C882.0,311.3 882.3,314.9 884.6,315.4C886.9,315.8 901.7,315.3 903.8,315.4C905.9,315.5 903.5,316.7 905.4,316.8C907.3,316.9 920.2,316.9 922.4,316.5C924.6,316.1 925.8,313.2 927.4,312.8C929.0,312.4 937.2,312.6 938.7,312.8C940.2,313.0 941.4,314.4 942.1,314.6C942.8,314.8 945.4,314.6 946.1,314.8C946.8,315.0 948.6,316.6 948.9,316.8" fill="none" stroke="#1a26f2" stroke-width="2.7" stroke-linejoin="round" stroke-linecap="round"/>
<path d="M358.1,451.7C361.3,451.7 387.0,451.6 390.5,451.4C394.0,451.2 392.6,449.8 393.3,449.6C394.0,449.4 396.9,449.4 397.6,449.6C398.3,449.8 399.6,451.8 400.4,452.0C401.2,452.2 405.1,451.9 406.0,451.7C406.9,451.5 408.0,449.8 409.6,449.6C411.2,449.4 420.8,449.4 422.3,449.6C423.9,449.8 424.1,451.8 425.1,452.0C426.2,452.2 431.3,452.0 432.8,451.7C434.3,451.4 438.3,449.2 439.9,448.6C441.4,448.0 446.5,445.8 448.3,445.3C450.1,444.8 455.8,443.4 458.2,443.2C460.6,443.0 470.5,443.1 472.3,442.9C474.1,442.7 475.1,441.3 476.6,441.1C478.1,440.9 485.5,440.4 487.1,440.8C488.7,441.2 491.7,445.4 492.8,445.3C493.9,445.2 497.3,440.7 498.4,439.7C499.5,438.7 502.7,435.5 504.1,435.0C505.5,434.5 511.1,434.7 512.5,435.0C513.9,435.3 516.4,438.4 517.8,437.9C519.2,437.4 525.1,430.8 526.9,429.8C528.7,428.8 533.7,428.3 535.4,428.0C537.1,427.7 542.2,427.2 543.9,426.6C545.6,426.0 550.6,423.3 552.3,422.1C554.0,420.9 559.4,415.9 560.8,415.0C562.2,414.1 565.2,413.1 566.4,412.9C567.6,412.6 571.7,413.2 572.8,412.5C573.9,411.8 576.8,406.8 577.7,405.8C578.6,404.8 581.0,402.6 581.9,402.6C582.8,402.6 585.8,405.1 586.9,405.8C588.0,406.6 591.5,410.0 592.5,410.1C593.5,410.2 596.3,408.1 597.4,406.5C598.5,404.9 602.0,396.0 603.1,393.9C604.2,391.8 607.7,385.7 608.7,385.4C609.7,385.1 612.2,390.1 613.0,391.0C613.8,391.9 615.5,394.2 616.5,394.1C617.5,394.0 622.3,391.2 623.5,389.6C624.7,388.0 627.6,379.8 628.5,378.3C629.4,376.8 631.9,374.8 632.7,374.8C633.5,374.8 635.5,377.6 636.2,378.3C636.9,379.0 638.9,382.0 639.8,381.9C640.6,381.8 643.9,377.9 644.7,377.6C645.5,377.3 646.7,378.8 647.5,379.0C648.3,379.2 651.4,379.4 652.5,379.7C653.6,380.0 657.7,382.5 658.8,382.3C659.9,382.1 662.7,378.5 663.7,377.6C664.7,376.7 667.8,373.8 668.7,373.4C669.6,373.0 671.8,373.2 672.9,374.1C674.0,375.0 678.1,381.8 679.3,382.6C680.5,383.4 683.9,383.1 684.9,381.9C685.9,380.7 688.8,371.5 689.8,371.0C690.8,370.5 693.7,375.5 694.8,376.9C695.9,378.3 699.3,383.5 700.4,384.7C701.5,385.9 704.6,388.8 705.6,389.3C706.6,389.8 709.1,389.7 709.9,389.3C710.7,388.9 713.0,385.1 713.8,385.1C714.6,385.1 716.6,388.5 717.6,389.3C718.6,390.1 722.2,391.8 723.3,392.7C724.4,393.6 727.8,397.6 728.9,397.8C730.0,398.0 733.1,394.6 733.9,394.6C734.7,394.6 736.4,397.1 737.0,398.1C737.6,399.1 738.8,403.3 739.5,404.4C740.2,405.5 742.6,408.4 743.7,409.4C744.8,410.4 749.3,413.5 750.1,414.3C750.9,415.1 751.0,417.5 751.5,417.1C752.0,416.8 753.9,412.1 755.0,410.8C756.1,409.5 760.7,405.6 762.1,404.4C763.5,403.2 767.6,399.7 769.1,399.2C770.6,398.7 775.6,398.6 776.9,399.2C778.2,399.8 780.5,403.8 781.8,405.1C783.1,406.4 788.9,410.8 790.3,412.2C791.7,413.6 794.9,418.1 795.9,419.2C796.9,420.3 799.1,421.7 800.1,422.8C801.1,423.9 804.7,429.3 805.8,430.5C806.9,431.7 809.7,434.6 810.7,435.0C811.7,435.4 814.6,434.7 815.7,435.0C816.8,435.3 820.0,437.5 821.3,438.3C822.6,439.1 827.2,442.7 828.3,443.2C829.4,443.7 831.5,443.7 832.6,443.5C833.7,443.3 838.5,441.3 839.6,441.1C840.7,440.9 842.8,441.3 843.9,441.8C845.0,442.3 849.1,445.0 850.2,445.8C851.3,446.6 852.8,449.0 855.1,449.4C857.4,449.8 871.3,449.2 873.3,449.4C875.3,449.6 874.9,451.2 875.5,451.4C876.1,451.6 879.0,451.2 879.7,451.4C880.4,451.6 881.5,453.0 882.1,453.0C882.7,453.0 883.2,451.6 885.5,451.4C887.8,451.2 903.1,451.1 905.3,451.3C907.5,451.5 907.2,452.8 907.4,453.0" fill="none" stroke="#1a26f2" stroke-width="2.7" stroke-linejoin="round" stroke-linecap="round"/>
<path d="M253.5,587.4C254.8,587.4 259.5,588.0 261.3,587.4C263.1,586.8 263.2,587.1 264.1,583.9C265.0,580.7 265.7,574.9 266.9,568.3C268.1,561.7 269.7,552.1 271.2,544.4C272.7,536.6 274.6,527.4 276.1,521.8C277.6,516.1 279.0,513.0 280.3,510.5C281.6,508.0 282.7,507.5 283.9,507.0C285.1,506.5 286.2,506.5 287.4,507.4C288.6,508.3 289.6,510.3 290.9,512.6C292.2,514.9 293.9,518.8 295.1,521.1C296.3,523.5 297.1,523.3 298.0,526.7C298.9,530.1 299.8,535.7 300.8,541.5C301.9,547.3 303.2,555.4 304.3,561.3C305.4,567.2 306.1,572.6 307.1,576.8C308.2,581.0 310.0,585.1 310.6,586.7" fill="none" stroke="#2644f4" stroke-width="2.6" stroke-linejoin="round" stroke-linecap="round"/>
<path d="M354.1,587.4C354.6,585.9 356.1,583.0 357.2,578.2C358.3,573.4 359.3,564.4 360.7,558.5C362.1,552.6 364.0,547.9 365.7,543.0C367.4,538.1 369.2,532.9 370.6,528.9C372.0,524.9 372.8,521.4 374.1,519.0C375.4,516.6 376.9,514.9 378.3,514.7C379.7,514.5 381.1,515.7 382.6,517.6C384.1,519.5 386.0,522.5 387.5,526.0C389.0,529.5 390.4,534.5 391.7,538.7C393.0,542.9 394.1,547.6 395.3,551.4C396.5,555.2 397.8,556.8 398.8,561.3C399.9,565.8 400.8,574.0 401.6,578.2C402.4,582.4 403.4,585.3 403.7,586.7" fill="none" stroke="#2644f4" stroke-width="2.6" stroke-linejoin="round" stroke-linecap="round"/>
<path d="M448.3,587.4C448.9,585.2 450.6,580.2 451.9,574.0C453.2,567.8 454.8,557.0 456.1,550.0C457.4,543.0 458.3,536.5 459.6,531.7C460.9,526.9 462.4,524.1 463.9,521.1C465.4,518.1 467.3,515.7 468.8,514.0C470.3,512.3 471.7,510.7 473.0,510.8C474.3,510.9 475.0,512.2 476.5,514.7C478.0,517.2 480.6,521.8 482.2,526.0C483.8,530.2 485.1,534.9 486.4,540.1C487.7,545.3 488.8,551.0 489.9,557.1C491.0,563.2 491.9,571.9 492.8,576.8C493.7,581.7 494.8,585.1 495.2,586.7" fill="none" stroke="#2644f4" stroke-width="2.6" stroke-linejoin="round" stroke-linecap="round"/>
<path d="M542.1,587.4C542.7,585.4 544.4,580.7 545.7,575.4C547.0,570.1 548.5,561.5 549.9,555.6C551.3,549.7 552.7,544.3 554.1,540.1C555.5,535.9 556.9,532.7 558.3,530.3C559.7,527.9 561.3,526.6 562.6,525.7C563.9,524.8 564.7,524.4 566.1,524.9C567.5,525.4 569.4,526.9 571.0,528.9C572.6,530.9 574.5,533.1 576.0,536.6C577.5,540.1 578.8,545.0 580.2,550.0C581.6,555.0 583.2,562.0 584.4,566.9C585.6,571.8 586.5,576.3 587.3,579.6C588.1,582.9 589.0,585.5 589.4,586.7" fill="none" stroke="#2644f4" stroke-width="2.6" stroke-linejoin="round" stroke-linecap="round"/>
<path d="M632.6,587.4C633.4,585.9 636.1,582.6 637.5,578.2C638.9,573.9 639.8,566.7 641.0,561.3C642.2,555.9 643.3,551.0 644.6,545.8C645.9,540.6 647.3,534.5 648.8,530.3C650.3,526.1 651.9,522.6 653.7,520.4C655.5,518.2 657.8,516.4 659.4,516.9C661.0,517.4 662.1,520.3 663.6,523.2C665.1,526.1 666.9,530.5 668.5,534.5C670.1,538.5 672.0,542.5 673.5,547.2C675.0,551.9 676.5,557.5 677.7,562.7C678.9,567.9 679.6,574.2 680.5,578.2C681.4,582.2 682.8,585.3 683.3,586.7" fill="none" stroke="#2644f4" stroke-width="2.6" stroke-linejoin="round" stroke-linecap="round"/>
<path d="M727.1,587.4C727.7,586.1 729.4,583.7 730.6,579.6C731.8,575.5 732.9,567.9 734.1,562.7C735.3,557.5 736.2,552.8 737.6,548.6C739.0,544.4 740.8,540.7 742.6,537.3C744.4,533.9 746.4,530.1 748.2,528.1C750.0,526.1 751.7,524.7 753.2,525.3C754.7,525.9 755.8,528.8 757.4,531.7C759.0,534.7 761.2,538.5 763.0,543.0C764.8,547.5 766.5,552.9 768.0,558.5C769.5,564.1 771.0,572.1 772.2,576.8C773.4,581.5 774.8,585.1 775.3,586.7" fill="none" stroke="#2644f4" stroke-width="2.6" stroke-linejoin="round" stroke-linecap="round"/>
<path d="M821.2,587.4C821.8,586.1 823.4,583.7 824.7,579.6C826.0,575.5 827.5,567.9 828.9,562.7C830.3,557.5 831.7,552.4 833.1,548.6C834.5,544.8 835.9,542.3 837.4,540.1C838.9,537.9 840.4,536.4 842.3,535.6C844.2,534.9 846.8,534.6 848.7,535.6C850.6,536.6 852.1,538.9 853.6,541.5C855.1,544.1 856.4,547.4 857.8,551.4C859.2,555.4 860.9,560.8 862.1,565.5C863.3,570.2 864.2,576.1 865.2,579.6C866.2,583.1 867.5,585.5 868.0,586.7" fill="none" stroke="#2644f4" stroke-width="2.6" stroke-linejoin="round" stroke-linecap="round"/>
<path d="M915.7,587.4C916.3,585.9 918.0,582.1 919.2,578.2C920.4,574.3 921.3,569.0 922.7,564.1C924.1,559.2 926.0,552.8 927.6,548.6C929.2,544.4 931.0,540.9 932.6,538.7C934.2,536.5 936.1,535.7 937.5,535.2C938.9,534.7 939.5,534.6 941.0,535.6C942.5,536.6 944.8,538.9 946.7,541.5C948.6,544.1 950.6,547.6 952.3,551.4C953.9,555.2 955.3,559.4 956.6,564.1C957.9,568.8 959.2,575.8 960.1,579.6C961.0,583.4 961.9,585.5 962.2,586.7" fill="none" stroke="#2644f4" stroke-width="2.6" stroke-linejoin="round" stroke-linecap="round"/>
<path d="M1007.5,587.4C1008.1,585.9 1009.9,581.4 1011.0,578.2C1012.1,575.0 1012.6,571.8 1013.9,568.3C1015.2,564.8 1017.3,561.0 1018.8,557.1C1020.3,553.2 1021.4,548.2 1023.0,545.1C1024.7,542.0 1027.0,540.1 1028.7,538.7C1030.4,537.4 1031.6,537.0 1032.9,537.0C1034.2,537.0 1034.9,536.8 1036.4,538.7C1037.9,540.6 1040.2,544.6 1042.1,548.6C1044.0,552.6 1046.0,558.0 1047.7,562.7C1049.5,567.4 1051.1,572.8 1052.6,576.8C1054.1,580.8 1056.2,585.1 1056.9,586.7" fill="none" stroke="#2644f4" stroke-width="2.6" stroke-linejoin="round" stroke-linecap="round"/>
<path d="M1101.3,587.4C1102.0,586.0 1104.0,582.1 1105.5,578.9C1107.0,575.7 1108.7,571.1 1110.5,568.3C1112.3,565.5 1114.2,563.4 1116.1,562.0C1118.0,560.6 1120.0,560.6 1121.7,559.9C1123.4,559.2 1124.5,557.7 1126.0,557.8C1127.5,557.9 1129.1,559.1 1130.9,560.6C1132.7,562.1 1134.7,564.0 1136.6,566.9C1138.5,569.8 1140.5,574.9 1142.2,578.2C1144.0,581.5 1146.3,585.3 1147.1,586.7" fill="none" stroke="#2644f4" stroke-width="2.6" stroke-linejoin="round" stroke-linecap="round"/>
<path d="M1197.0,587.4C1197.9,586.2 1200.2,582.4 1202.3,580.3C1204.4,578.2 1207.1,576.0 1209.4,574.7C1211.8,573.4 1214.2,572.9 1216.4,572.6C1218.6,572.3 1220.6,572.3 1222.8,573.0C1225.0,573.7 1227.4,575.2 1229.8,576.8C1232.2,578.4 1235.0,580.6 1236.9,582.4C1238.9,584.2 1240.7,586.6 1241.5,587.4" fill="none" stroke="#2644f4" stroke-width="2.6" stroke-linejoin="round" stroke-linecap="round"/>
<path d="M1293.3,586.7C1294.3,586.2 1296.0,584.2 1299.6,583.6C1303.2,583.0 1311.1,583.0 1315.1,583.1C1319.1,583.2 1320.5,583.5 1323.6,584.1C1326.7,584.8 1330.2,586.4 1333.5,587.0C1336.8,587.6 1341.8,587.7 1343.4,587.8" fill="none" stroke="#2644f4" stroke-width="2.6" stroke-linejoin="round" stroke-linecap="round"/>
<path d="M347.4,789.2C348.7,788.4 353.3,785.3 355.9,783.9C358.4,782.5 361.9,780.7 364.4,779.6C366.9,778.5 370.3,777.5 372.8,776.8C375.3,776.1 378.3,776.0 381.3,774.7C384.3,773.4 389.6,769.6 392.6,768.3C395.6,767.0 398.5,767.0 401.0,766.2C403.5,765.4 406.9,763.7 409.5,762.7C412.1,761.7 416.1,760.1 418.0,759.6C419.9,759.1 420.5,760.2 422.2,759.6C423.9,759.0 427.4,757.1 429.3,755.6C431.2,754.1 433.2,751.6 434.9,749.3C436.6,747.0 438.6,742.6 440.5,740.1C442.4,737.6 445.2,734.6 447.6,732.4C450.0,730.2 454.2,725.4 456.7,725.5C459.2,725.6 462.1,731.4 464.0,732.8C465.9,734.1 467.4,733.4 469.6,734.5C471.8,735.6 476.3,740.2 478.8,740.4C481.3,740.6 484.8,737.2 486.5,735.9C488.2,734.6 488.4,733.5 490.0,731.6C491.6,729.7 495.3,725.6 497.4,723.2C499.5,720.8 502.4,716.9 503.8,715.3C505.2,713.7 505.8,713.0 506.8,712.3C507.8,711.6 509.5,711.0 510.7,710.6C511.9,710.2 513.6,709.7 514.7,709.6C515.8,709.5 517.0,709.3 518.1,709.9C519.2,710.5 520.8,712.0 522.1,713.3C523.4,714.6 525.2,716.5 526.5,718.3C527.8,720.1 529.8,723.6 531.0,725.2C532.2,726.8 533.4,728.1 534.4,729.1C535.4,730.1 536.4,730.4 537.4,731.6C538.4,732.8 540.3,735.8 541.3,737.0C542.3,738.2 542.9,739.0 543.8,739.5C544.7,740.0 546.0,740.2 547.3,740.0C548.6,739.8 550.8,738.8 552.2,738.0C553.6,737.2 555.4,735.7 556.6,734.6C557.8,733.5 558.9,732.3 560.0,730.6C561.1,728.9 562.6,725.3 564.1,723.2C565.6,721.1 568.2,718.3 569.8,716.9C571.4,715.5 573.0,714.0 574.7,714.0C576.4,714.0 579.2,715.4 581.0,716.9C582.8,718.4 584.6,721.8 586.7,723.9C588.8,726.0 592.8,729.0 595.1,731.0C597.4,733.0 600.1,735.9 602.2,737.3C604.3,738.7 606.9,740.0 609.2,740.1C611.5,740.2 614.6,738.8 617.7,738.0C620.8,737.2 626.8,735.8 629.9,734.5C633.0,733.2 636.1,729.8 638.3,729.1C640.5,728.4 642.9,731.1 644.7,730.0C646.5,728.9 648.5,724.1 650.3,721.8C652.1,719.5 654.0,716.4 656.7,714.7C659.4,713.0 665.0,711.0 668.0,710.2C671.0,709.4 674.2,709.4 676.4,709.4C678.6,709.4 680.9,708.9 682.8,710.2C684.7,711.5 687.1,716.3 689.1,718.3C691.1,720.2 694.4,722.3 696.2,723.2C698.0,724.1 699.3,723.5 701.1,724.6C702.9,725.7 706.6,729.8 708.2,730.3C709.8,730.8 708.6,728.4 711.7,728.1C714.8,727.8 725.0,727.1 728.6,728.1C732.2,729.1 733.6,733.0 735.7,734.5C737.8,736.0 740.9,737.5 742.7,738.0C744.5,738.5 746.0,737.6 747.6,738.0C749.2,738.4 751.4,740.1 753.3,740.4C755.2,740.7 758.3,740.6 760.3,740.1C762.3,739.6 764.7,738.3 766.7,737.3C768.7,736.2 771.4,734.4 773.7,733.1C776.0,731.8 779.9,730.3 782.2,728.9C784.5,727.5 786.7,726.2 789.3,723.9C791.9,721.6 796.8,714.2 799.8,713.6C802.8,713.0 806.6,718.4 809.2,719.7C811.8,721.0 814.5,721.1 816.9,722.5C819.3,723.9 823.4,728.5 825.4,728.9C827.4,729.3 828.6,725.8 830.3,725.3C832.0,724.8 835.1,724.8 836.7,725.3C838.3,725.8 839.7,728.6 840.9,728.6C842.1,728.6 842.9,725.8 844.4,725.3C845.9,724.8 848.7,724.6 850.8,725.3C852.9,726.0 856.7,729.4 858.5,730.0C860.3,730.6 861.3,728.6 862.8,729.3C864.3,730.0 866.9,733.8 868.4,734.5C869.9,735.2 870.2,734.6 872.6,733.8C875.0,733.0 881.1,730.2 884.6,728.9C888.1,727.6 893.8,725.8 895.9,725.3C898.0,724.8 897.2,724.7 898.7,725.3C900.2,725.9 903.9,728.2 905.8,729.6C907.7,731.0 909.5,732.4 911.4,734.5C913.3,736.6 916.4,741.1 918.5,743.7C920.6,746.3 923.6,750.2 925.5,752.1C927.4,754.0 929.2,755.8 931.2,756.4C933.2,757.0 937.0,757.5 938.9,756.4C940.8,755.3 942.1,751.2 943.9,749.3C945.7,747.4 948.7,745.5 950.9,743.7C953.1,741.9 956.2,738.3 958.7,737.3C961.2,736.3 965.3,736.9 967.8,737.3C970.3,737.7 973.5,738.9 975.6,740.1C977.7,741.3 979.7,743.7 981.9,745.1C984.1,746.5 987.5,748.0 990.4,749.3C993.3,750.6 998.5,752.7 1001.2,753.5C1003.9,754.3 1005.7,754.3 1008.2,754.9C1010.7,755.5 1014.5,757.4 1018.1,757.8C1021.7,758.2 1028.8,757.5 1032.2,757.8C1035.6,758.1 1038.3,758.9 1040.6,759.9C1042.9,760.9 1045.9,763.8 1047.7,764.8C1049.5,765.8 1050.9,765.8 1052.6,766.9C1054.3,768.0 1057.0,771.0 1059.0,772.3C1061.0,773.6 1063.9,775.1 1066.0,775.7C1068.1,776.3 1070.8,776.6 1073.1,776.1C1075.4,775.6 1078.6,773.8 1081.6,772.6C1084.6,771.4 1090.2,769.4 1092.8,768.3C1095.4,767.2 1097.8,765.2 1099.2,765.2C1100.6,765.2 1098.2,767.7 1102.0,768.1C1105.8,768.5 1120.9,768.5 1124.6,768.1C1128.3,767.7 1126.0,765.5 1126.7,765.5C1127.4,765.5 1126.1,767.7 1129.5,768.1C1132.9,768.5 1145.9,767.9 1149.3,768.1C1152.7,768.3 1149.8,769.2 1152.1,769.5C1154.4,769.8 1161.6,769.3 1164.8,769.8C1168.0,770.3 1170.7,771.7 1173.2,772.6C1175.7,773.5 1176.8,774.1 1181.2,775.6C1185.6,777.1 1197.0,780.9 1202.3,782.7C1207.6,784.5 1213.4,786.7 1216.4,787.6C1219.4,788.5 1220.4,788.6 1222.1,788.6C1223.8,788.6 1225.0,788.5 1227.7,787.6C1230.4,786.7 1236.8,784.2 1240.4,782.7C1244.0,781.2 1249.0,778.6 1251.7,777.8C1254.4,777.0 1256.6,776.7 1258.7,777.1C1260.8,777.5 1263.7,779.6 1265.8,780.6C1267.9,781.6 1270.3,783.2 1272.8,784.1C1275.3,785.0 1279.2,786.2 1282.7,786.9C1286.2,787.6 1294.0,788.7 1296.0,789.0" fill="none" stroke="#1f30ee" stroke-width="2.6" stroke-linejoin="round" stroke-linecap="round"/>
<path d="M274.5,788.1H299" stroke="#1520c0" stroke-width="2.4" stroke-linecap="round"/>
<path d="M1309,788.6L1313,787.7H1321L1323,788.8" stroke="#1828cc" stroke-width="2.4" stroke-linecap="round" stroke-linejoin="round" fill="none"/>
<path d="M777.7,55.9L783.2,61.0L777.7,66.1L772.2,61.0Z" fill="#ff0c06" stroke="#ff0c06" stroke-width="6" stroke-linejoin="round"/>
<path d="M799.1,55.9L804.6,61.0L799.1,66.1L793.6,61.0Z" fill="#ff0c06" stroke="#ff0c06" stroke-width="6" stroke-linejoin="round"/>
<path d="M829.6,55.9L835.1,61.0L829.6,66.1L824.1,61.0Z" fill="#ff0c06" stroke="#ff0c06" stroke-width="6" stroke-linejoin="round"/>
<path d="M1126.2,55.9L1131.7,61.0L1126.2,66.1L1120.7,61.0Z" fill="#ff0c06" stroke="#ff0c06" stroke-width="6" stroke-linejoin="round"/>
<path d="M829.3,177.9L834.5999999999999,182.9L829.3,187.9L824.0,182.9Z" fill="#ff0c06" stroke="#ff0c06" stroke-width="6" stroke-linejoin="round"/>
<path d="M799.1,312.0L804.3000000000001,317.1L799.1,322.20000000000005L793.9,317.1Z" fill="#ff0c06" stroke="#ff0c06" stroke-width="6" stroke-linejoin="round"/>
<path d="M777.6,448.4L782.8000000000001,453.4L777.6,458.4L772.4,453.4Z" fill="#ff0c06" stroke="#ff0c06" stroke-width="6" stroke-linejoin="round"/>
<path d="M1126,582.3L1131.2,587.3L1126,592.3L1120.8,587.3Z" fill="#ff0c06" stroke="#ff0c06" stroke-width="6" stroke-linejoin="round"/>
<text x="1295.3" y="786" font-size="29.5" text-anchor="middle" class="ri">233</text>
<path d="M1296.6,779.1L1307.5,789.6L1296.6,800.1L1285.6999999999998,789.6Z" fill="#ff0c06" stroke="#ff0c06" stroke-width="3.0" stroke-linejoin="round"/>
<path d="M1296.7,795V880" stroke="#ff0c06" stroke-width="2.2"/>
<path d="M1283,875H1309.2L1296.1,899.3Z" fill="#ff0c06"/>
<text x="1240" y="893.5" font-size="29.5" text-anchor="middle" class="ri">0.695</text>
<text transform="translate(696.2,36.3) scale(0.988,1)" font-size="46" class="t">Nomogram</text>
<text transform="translate(6.0,63.5) scale(0.99,1)" font-size="34.5" class="t">Points</text>
<text transform="translate(5.3,155.3) scale(0.995,1)" font-size="34.5" class="t">HR*</text>
<text transform="translate(8.3,288.8) scale(0.964,1)" font-size="34.5" class="t">WBC*</text>
<text transform="translate(9.8,425.2) scale(1.01,1)" font-size="34.5" class="t">PLT*</text>
<text transform="translate(9.3,558.9) scale(0.987,1)" font-size="34.5" class="t">GCS***</text>
<text transform="translate(11.5,681.6) scale(0.994,1)" font-size="34.5" class="t">Total points</text>
<text x="188.6" y="907.4" font-size="34" class="t">Pr(</text>
<text x="240" y="907.4" font-size="34" class="t" font-style="italic">)</text>
</svg>
</body></html>
